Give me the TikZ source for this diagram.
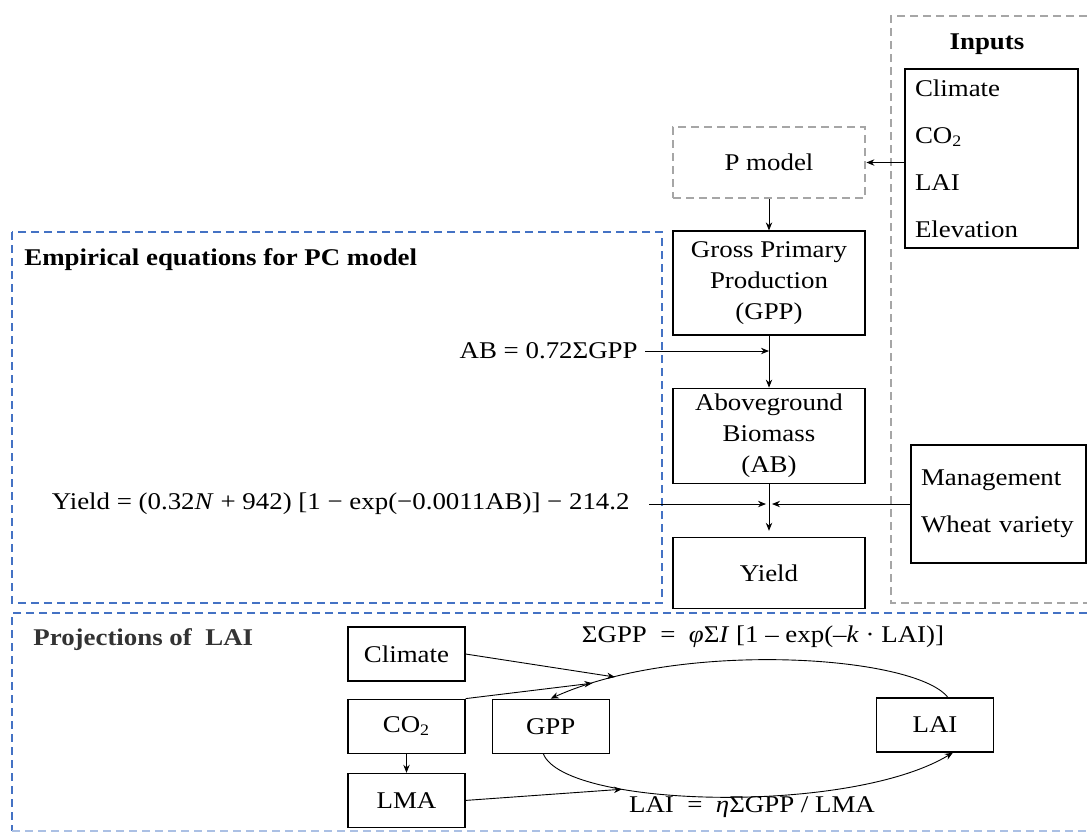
\documentclass[tikz,border=0pt]{standalone}
\usepackage{fontspec}
\setmainfont{Liberation Serif}[FakeStretch=1.12]
\usetikzlibrary{positioning,arrows.meta}
\definecolor{regionblue}{HTML}{4472C4}
\definecolor{regiongray}{HTML}{A6A6A6}

\begin{document}
\begin{tikzpicture}[x=0.5pt, y=-0.5pt,
  box/.style={draw, line width=0.6pt, inner sep=0pt, align=center,
              minimum width=96pt, font=\fontsize{12}{15.5}\selectfont},
  pbox/.style={draw, line width=0.6pt, inner sep=0pt, minimum width=58.5pt,
               minimum height=27pt, font=\fontsize{12}{14}\selectfont},
  listbox/.style={draw, line width=0.6pt, inner xsep=5pt, inner ysep=0pt,
                  align=left, font=\fontsize{12}{23.5}\selectfont},
  eqn/.style={inner sep=0pt, font=\fontsize{12}{14}\selectfont},
  title/.style={inner sep=0pt, font=\fontsize{12}{14}\selectfont\bfseries},
  arr/.style={-{Stealth[length=4pt,width=3.2pt]}, line width=0.45pt},
  blueregion/.style={draw=regionblue, line width=1.4pt, dash pattern=on 4pt off 2.5pt},
  grayregion/.style={draw=regiongray, line width=1.4pt, dash pattern=on 4pt off 2.5pt},
  ]
  \useasboundingbox (0,0) rectangle (1087,837);

  % dashed regions
  \draw[grayregion] (1087,16) -- (891,16) -- (891,603) -- (1087,603);
  \draw[blueregion] (12,232) rectangle (662,603);
  \draw[blueregion] (1087,613) -- (12,613) -- (12,831);
  \draw[blueregion, draw=regionblue!45] (12,831) -- (1087,831);

  % inputs
  \node[title] (inputs) at (987,44) {Inputs};
  \node[listbox, text width=76.5pt, minimum height=89.5pt] (inlist) at (991.5,158.5)
        {Climate\\CO\textsubscript{2}\\LAI\\Elevation};
  \node[listbox, text width=77.5pt, minimum height=59pt] (mgmt) at (998.5,504)
        {Management\\Wheat variety};

  % main column
  \node[box, grayregion, minimum height=35.5pt] (pmodel) at (769,162.5) {P model};
  \node[box, minimum height=52pt, below=15.5pt of pmodel] (gpp)
        {Gross Primary\\Production\\(GPP)};
  \node[box, minimum height=47.5pt, below=26pt of gpp] (ab)
        {Aboveground\\Biomass\\(AB)};
  \node[box, minimum height=35.5pt, below=26.5pt of ab] (yield) {Yield};

  % empirical equations
  \node[title, anchor=west] (emptitle) at (24,260) {Empirical equations for PC model};
  \node[eqn, anchor=east, inner xsep=3.5pt] (abeq) at (645,351) {AB = 0.72ΣGPP};
  \node[eqn, anchor=east, inner xsep=9.5pt] (yieldeq) at (649,504)
        {Yield = (0.32\textit{N} + 942) [1 − exp(−0.0011AB)] − 214.2};

  \draw[arr] (inlist.west |- pmodel.east) -- (pmodel.east);
  \draw[arr] (pmodel) -- (gpp);
  \draw[arr] (gpp) -- (ab);
  \draw[arr] (abeq.east) -- (abeq.east -| gpp.south);
  \draw[arr, shorten >=3pt] (ab) -- (yield);
  \draw[arr, shorten >=1.5pt] (yieldeq.east) -- (yieldeq.east -| ab.south);
  \draw[arr, shorten >=1.5pt] (mgmt.west) -- (mgmt.west -| ab.south);

  % projections of LAI
  \node[title, anchor=west, text=black!80] (projtitle) at (33,640) {Projections of\ \ LAI};
  \node[pbox] (climate) at (406.5,654) {Climate};
  \node[pbox, below=8.5pt of climate] (co2) {CO\textsubscript{2}};
  \node[pbox, below=9.5pt of co2] (lma) {LMA};
  \node[pbox, right=13pt of co2] (gppbox) {GPP};
  \node[pbox] (lai) at (935,725) {LAI};
  \node[eqn] (gppeq) at (763,637)
        {ΣGPP\ \ =\ \ \textit{φ}Σ\textit{I} [1 – exp(–\textit{k} · LAI)]};
  \node[eqn] (laieq) at (752,807) {LAI\ \ =\ \ \textit{η}ΣGPP / LMA};

  \draw[arr] (lai.65) .. controls (915,655) and (680,640) ..
        coordinate[pos=0.85] (upin1) coordinate[pos=0.9] (upin2) (gppbox.north);
  \draw[arr] (gppbox.-105) .. controls (565,808) and (850,815) ..
        coordinate[pos=0.3] (lowin) (lai.-57);
  \draw[arr] (climate.east) -- (upin1);
  \draw[arr] (co2.north east) -- (upin2);
  \draw[arr] (co2) -- (lma);
  \draw[arr] (lma.east) -- (lowin);
\end{tikzpicture}
\end{document}
